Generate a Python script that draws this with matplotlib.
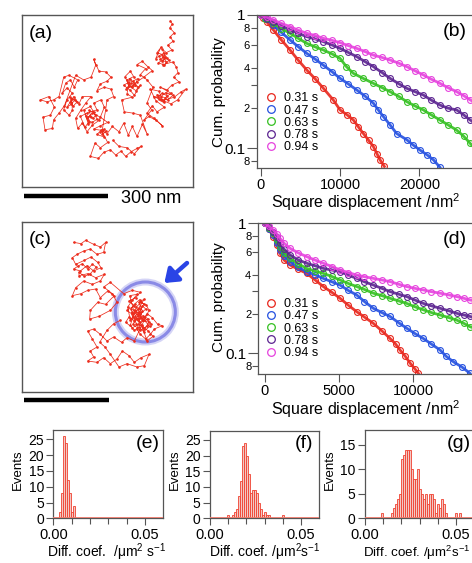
import numpy as np
import matplotlib
matplotlib.use('Agg')
import matplotlib.pyplot as plt
from matplotlib.lines import Line2D
from matplotlib.patches import Circle
from matplotlib.ticker import NullLocator

# ---------------- data ----------------
# trajectories (digitised positions, 252 units = 300 nm), y grows downward
traj_a_x = [510,516,508,522,510,518,502,515,498,486,494,478,498,486,470,482,466,
            476,490,500,486,474,492,506,488,
            488,518,528,533,520,536,514,
            500,480,512,494,470,488,522,542,556,532,512,482,460,
            472,486,500,490,476,502,518,496,482,
            476,450,466,492,470,456,440,462,486,468,446,430,454,440,458,
            440,420,436,410,426,442,456,430,410,394,380,400,390,374,386,406,420,402,388,370,
            384,398,412,404,392,378,396,414,400,388,
            380,396,364,372,398,420,
            440,426,410,396,384,370,356,336,320,302,312,290,
            298,310,306,318,
            280,300,322,300,
            276,260,250,270,286,
            278,268,262,276,290,280,266,272,256,264,
            266,254,240,260,290,280,302,312,296,276,260,246,232,226,242,256,272,246,236,220,210,200,
            212,224,208,218,230,214,
            216,206,190,200,216,200,186,196,210,222,232,206,190,
            176,160,140,120,146,162,150,128,134,156,160,176,192,
            226,250,272,286,280,296,316,332,320,300,290,312,332,340,320,
            316,305,322,300,284,270,294,310,330,346,362,376,392,410,422,402,380,356,338]
traj_a_y = [62,72,84,98,110,124,136,150,158,148,170,178,186,164,158,142,176,
            168,160,174,182,188,196,180,172,
            194,186,202,218,232,246,256,
            270,262,280,294,284,302,292,276,268,300,312,300,290,
            292,280,288,306,298,300,286,278,290,
            274,268,302,322,336,318,340,356,378,362,350,362,330,310,262,
            240,224,206,194,184,200,212,232,246,262,240,230,214,230,258,272,256,286,270,256,
            248,244,236,256,250,266,258,262,248,236,
            282,292,300,336,340,346,
            402,374,410,380,406,370,396,380,402,390,412,404,
            396,388,404,394,
            388,378,368,352,
            340,356,330,320,346,
            356,348,362,368,358,338,332,352,348,372,
            366,382,350,340,330,310,300,322,362,376,396,370,386,356,330,310,290,290,312,290,306,322,
            314,300,292,320,306,296,
            332,346,330,300,280,264,280,250,240,262,240,226,232,
            290,300,306,300,290,322,346,352,390,386,360,340,318,
            226,240,232,196,178,214,216,232,244,252,272,262,268,290,300,
            330,395,428,444,430,470,476,458,450,466,454,470,456,446,440,462,444,440,422]

traj_c_x = [220,242,256,280,300,316,310,290,270,250,230,216,226,252,272,292,302,280,260,240,220,
            232,246,262,276,288,270,252,236,
            236,262,286,312,300,276,250,226,216,242,262,286,300,322,342,316,292,270,268,296,330,350,336,310,330,
            370,396,420,406,386,402,380,396,412,422,402,386,376,396,416,432,446,426,440,456,472,486,462,450,436,420,410,426,416,432,416,406,390,382,396,410,388,400,420,436,426,412,398,420,440,452,430,414,404,418,430,418,404,392,408,426,444,458,440,
            424,410,428,444,420,400,394,414,432,448,430,416,402,390,408,422,438,446,
            402,380,364,340,320,300,280,262,276,290,270,280,262,290,310,330,350,366,386,402,422,446,432,410,380,356,330,314,298,320,340,360]
traj_c_y = [96,100,90,102,110,96,126,132,116,122,132,142,162,150,140,156,172,182,166,182,176,
            168,160,176,162,170,190,198,186,
            196,190,202,192,212,222,212,232,256,250,240,236,262,242,256,282,276,300,326,318,300,276,250,230,216,
            250,240,246,262,272,286,300,312,296,322,332,320,336,352,342,356,336,330,310,322,342,346,356,372,386,372,356,302,276,266,292,306,330,290,270,252,256,300,312,296,286,318,342,360,348,340,320,330,318,304,282,268,280,296,340,348,362,378,392,
            344,326,316,326,336,322,306,314,330,348,364,350,360,344,290,276,284,300,
            392,382,396,380,392,372,356,362,386,410,422,440,452,456,442,460,446,422,436,456,442,432,466,470,460,470,432,410,396,360,340,330]

# cumulative probability of square displacement (nm^2)
labels_t = ['0.31 s', '0.47 s', '0.63 s', '0.78 s', '0.94 s']
colors_t = ['#e8261c', '#2450e0', '#34c021', '#5b2390', '#e642de']

b_x_031 = [0,300,756,1600,2600,3700,4700,5800,6900,7900,9160,10000,10900,11680,12300,12940,13600,14200,14700,15040,15590]
b_y_031 = [1.0,0.95,0.89,0.772,0.65,0.546,0.46,0.387,0.33,0.282,0.23,0.194,0.178,0.163,0.145,0.129,0.115,0.103,0.09,0.082,0.073]
b_x_047 = [0,500,1600,2600,3700,4700,5800,6900,7900,9000,10000,11000,12100,13200,14200,14800,15460,16300,17140,18400,19200,20080,21000,21760,22600]
b_y_047 = [1.0,0.95,0.84,0.74,0.65,0.58,0.516,0.465,0.42,0.375,0.335,0.305,0.274,0.245,0.218,0.195,0.173,0.15,0.129,0.116,0.106,0.097,0.089,0.082,0.072]
b_x_063 = [0,600,1600,2600,3700,4700,5800,6900,7900,9000,10000,10800,11680,12900,14200,15300,16300,17400,18400,19500,20500,21500,22600,23600,24700,25600,26400,27000]
b_y_063 = [1.0,0.94,0.866,0.79,0.729,0.67,0.613,0.575,0.546,0.51,0.473,0.41,0.365,0.335,0.307,0.285,0.266,0.245,0.224,0.207,0.194,0.178,0.163,0.15,0.137,0.123,0.109,0.1]
b_x_078 = [0,800,1600,2600,3700,4700,5800,6900,7900,9000,10000,11000,12100,13200,14200,15300,16300,17400,18400,19500,20500,21500,22600,23600,24700,25600,26400,27000]
b_y_078 = [1.0,0.94,0.89,0.83,0.772,0.73,0.688,0.66,0.631,0.595,0.562,0.525,0.487,0.445,0.41,0.37,0.335,0.305,0.282,0.265,0.251,0.23,0.211,0.2,0.194,0.178,0.163,0.155]
b_x_094 = [0,800,1600,2600,3700,4700,5800,6900,7900,9000,10000,11000,12100,13200,14200,15300,16300,17400,18400,19500,20500,21500,22600,23600,24700,25600,26400,27000]
b_y_094 = [1.0,0.96,0.917,0.865,0.818,0.77,0.729,0.7,0.668,0.645,0.62,0.59,0.562,0.53,0.5,0.48,0.46,0.435,0.41,0.38,0.355,0.33,0.307,0.285,0.266,0.248,0.231,0.22]

d_x_031 = [0,250,560,800,1010,1300,1690,2200,2810,3400,3930,4500,5060,5600,6180,6700,7300,7900,8430,8800,9100,9450,9780,10100,10340]
d_y_031 = [1.0,0.9,0.79,0.68,0.588,0.52,0.478,0.445,0.412,0.365,0.326,0.295,0.265,0.235,0.209,0.19,0.17,0.148,0.13,0.118,0.106,0.095,0.084,0.076,0.07]
d_x_047 = [0,250,560,800,1010,1300,1690,2200,2810,3400,3930,4500,5060,5600,6180,6700,7300,7900,8430,9000,9550,10100,10670,11200,11800,12200,12700,13300,13820]
d_y_047 = [1.0,0.91,0.81,0.7,0.623,0.56,0.507,0.46,0.425,0.4,0.377,0.355,0.335,0.305,0.281,0.25,0.222,0.205,0.192,0.172,0.156,0.142,0.13,0.118,0.106,0.095,0.086,0.078,0.07]
d_x_063 = [0,250,560,800,1010,1300,1690,2200,2810,3400,3930,4500,5060,5600,6180,6700,7300,7900,8430,9000,9550,10100,10670,11200,11800,12400,12920,13400,13820,14200]
d_y_063 = [1.0,0.92,0.838,0.74,0.662,0.59,0.538,0.49,0.45,0.428,0.412,0.39,0.366,0.345,0.326,0.31,0.29,0.277,0.265,0.253,0.242,0.228,0.216,0.206,0.197,0.188,0.18,0.17,0.16,0.155]
d_x_078 = [0,250,560,800,1010,1300,1690,2200,2810,3400,3930,4500,5060,5600,6180,6700,7300,7900,8430,9000,9550,10100,10670,11200,11800,12400,12920,13400,13820,14200]
d_y_078 = [1.0,0.93,0.863,0.78,0.702,0.63,0.571,0.525,0.493,0.47,0.45,0.437,0.425,0.4,0.377,0.355,0.335,0.315,0.298,0.285,0.273,0.257,0.242,0.232,0.222,0.212,0.203,0.197,0.192,0.188]
d_x_094 = [0,250,560,800,1010,1300,1690,2200,2810,3400,3930,4500,5060,5600,6180,6700,7300,7900,8430,9000,9550,10100,10670,11200,11800,12400,12920,13400,13820,14200]
d_y_094 = [1.0,0.95,0.888,0.83,0.767,0.7,0.642,0.595,0.554,0.52,0.493,0.465,0.438,0.418,0.4,0.388,0.377,0.366,0.356,0.34,0.326,0.316,0.307,0.298,0.29,0.281,0.273,0.265,0.257,0.252]

# histograms of diffusion coefficients (um^2/s)
bin_w = 0.0011
e_start = 0.0033
e_counts = [2, 8, 26, 24, 12, 8, 2, 4]
f_start = 0.0098
f_counts = [1,0,1,2,3,7,12,23,24,20,14,8,9,9,8,5,3,1,2,1,1,0,0,0,0,0,0,1]
g_start = 0.0089
g_counts = [1,0,0,0,0,1,2,3,4,5,12,13,14,14,14,10,8,8,10,6,5,4,5,3,5,5,4,1,3,2,4,3,1,0,0,0,0,1,0,1]

# ---------------- style ----------------
plt.rcParams['font.family'] = ['Liberation Sans', 'DejaVu Sans']
plt.rcParams['mathtext.default'] = 'regular'
GRAY = '#555555'
TRED = '#ec2d1d'

W, H = 472, 563
fig = plt.figure(figsize=(W / 100, H / 100), dpi=100)


def rect(l, t, w, h):
    return [l / W, 1 - (t + h) / H, w / W, h / H]


def fp(x, y):
    return (x / W, 1 - y / H)


def style_spines(ax, lw=0.9):
    for s in ax.spines.values():
        s.set_color(GRAY)
        s.set_linewidth(lw)


# ---------- trajectories ----------
def traj_panel(box, xs, ys, lim):
    ax = fig.add_axes(rect(*box))
    ax.plot(xs, ys, '-', color=TRED, lw=0.55, marker='o', ms=1.9, mec='none', mfc=TRED)
    ax.set_xlim(lim[0], lim[1])
    ax.set_ylim(lim[3], lim[2])
    ax.set_xticks([]); ax.set_yticks([])
    style_spines(ax, 1.0)
    return ax


ax_a = traj_panel((22, 15, 171, 172), traj_a_x, traj_a_y, (65, 578, 45, 562))
ax_c = traj_panel((22, 222, 171, 170), traj_c_x, traj_c_y, (65, 578, 35, 545))

ax_c.add_patch(Circle((435, 305), 90, fill=False, ec='#b8b8f0', lw=5, alpha=0.6))
ax_c.add_patch(Circle((435, 305), 90, fill=False, ec='#8a8ae6', lw=2.2))
ax_c.annotate('', xy=(492, 218), xytext=(560, 158),
              arrowprops=dict(arrowstyle='-|>,head_width=0.55,head_length=0.75',
                              lw=3.2, color='#2a44e6', shrinkA=0, shrinkB=0))

fig.text(*fp(40.5, 33), '(a)', fontsize=14, ha='center', va='center')
fig.text(*fp(40.5, 240), '(c)', fontsize=14, ha='center', va='center')

# scale bars
fig.add_artist(Line2D([24 / W, 108 / W], [1 - 196 / H] * 2, lw=3.2, color='black', solid_capstyle='butt'))
fig.add_artist(Line2D([24 / W, 109 / W], [1 - 400 / H] * 2, lw=3.2, color='black', solid_capstyle='butt'))
fig.text(*fp(151, 198.5), '300 nm', fontsize=13, ha='center', va='center')


# ---------- cumulative probability ----------
def cdf_panel(left, top, height, xlim, px_per_unit, ylim, series, xt, letter, ylab_y, xlab_base, legend_top):
    width = (xlim[1] - xlim[0]) * px_per_unit
    ax = fig.add_axes(rect(left, top, width, height))
    for (xs, ys), c in zip(series, colors_t):
        ax.plot(xs, ys, '-', color=c, lw=2.0, alpha=0.9)
        ax.plot(xs, ys, 'o', color=c, ms=4.2, mfc='none', mew=0.8)
    ax.set_yscale('log')
    ax.set_xlim(*xlim)
    ax.set_ylim(*ylim)
    ax.set_xticks(xt, [str(v) for v in xt])
    ax.xaxis.set_minor_locator(NullLocator())
    ax.set_yticks([0.1, 1], ['0.1', '1'])
    ax.set_yticks([0.08, 0.2, 0.3, 0.4, 0.6, 0.8], ['8', '2', '', '4', '6', '8'], minor=True)
    ax.tick_params(axis='x', which='major', length=6, width=0.8, color=GRAY, labelsize=10.5, pad=1)
    ax.tick_params(axis='y', which='major', length=7, width=0.8, color=GRAY, labelsize=11, pad=1.5)
    ax.tick_params(axis='y', which='minor', length=4, width=0.8, color=GRAY, labelsize=8, pad=1)
    style_spines(ax)
    handles = [Line2D([], [], ls='none', marker='o', ms=5.5, mfc='none', mec=c, mew=0.9) for c in colors_t]
    fig.legend(handles, labels_t, loc='upper left', bbox_to_anchor=fp(266.4, legend_top),
               frameon=False, fontsize=9, handlelength=0.8, handletextpad=0.6,
               labelspacing=0.02, borderpad=0, borderaxespad=0)
    fig.text(*fp(218.5, ylab_y), 'Cum. probability', rotation=90, fontsize=11, ha='center', va='center')
    fig.text(*fp(366, xlab_base), 'Square displacement /nm$^2$', fontsize=11.5, ha='center', va='baseline')
    fig.text(*fp(454.5, top + 16.5), letter, fontsize=14, ha='center', va='center')
    return ax


series_b = [(b_x_031, b_y_031), (b_x_047, b_y_047), (b_x_063, b_y_063), (b_x_078, b_y_078), (b_x_094, b_y_094)]
series_d = [(d_x_031, d_y_031), (d_x_047, d_y_047), (d_x_063, d_y_063), (d_x_078, d_y_078), (d_x_094, d_y_094)]

cdf_panel(257, 15, 153, (-470, 30000), 79.3 / 10000, (0.0711, 1.0), series_b,
          [0, 10000, 20000], '(b)', 92, 208, 92.3)
cdf_panel(258.3, 223.3, 150.7, (-450, 15500), 74.2 / 5000, (0.0693, 1.0), series_d,
          [0, 5000, 10000], '(d)', 297.5, 414.5, 298)


# ---------- histograms ----------
def hist_panel(left, top, ymax, start, counts, yt, letter, lab_cx, xlabel, lab_fs=10):
    height = 518.3 - top
    ax = fig.add_axes(rect(left, top, 110, height))
    edges = start + bin_w * np.arange(len(counts))
    ax.bar(edges, counts, width=bin_w, align='edge', color='#f2c9c4', edgecolor='#f0402f', lw=0.6)
    ax.axhline(0, color='#ec7a6c', lw=1.3, zorder=3)
    ax.set_xlim(0, 0.06)
    ax.set_ylim(0, ymax)
    ax.set_xticks([0, 0.05], ['0.00', '0.05'])
    ax.set_xticks([0.01, 0.02, 0.03, 0.04], minor=True)
    ax.set_yticks(yt, [str(v) for v in yt])
    ax.tick_params(axis='x', which='major', length=5, width=0.8, color=GRAY, labelsize=10.5, pad=2)
    ax.tick_params(axis='x', which='minor', length=4, width=0.8, color=GRAY)
    ax.tick_params(axis='y', which='major', length=5, width=0.8, color=GRAY, labelsize=10, pad=1.5)
    style_spines(ax)
    fig.text(*fp(left + 94, 444), letter, fontsize=14, ha='center', va='center')
    fig.text(*fp(left - 35, 470), 'Events', rotation=90, fontsize=9.5, ha='center', va='center')
    fig.text(*fp(lab_cx, 557), xlabel, fontsize=lab_fs, ha='center', va='baseline')
    return ax


hist_panel(53.3, 430, 28, e_start, e_counts, [0, 5, 10, 15, 20, 25], '(e)', 107,
           'Diff. coef.  /μm$^2$ s$^{-1}$')
hist_panel(209.5, 430.5, 28, f_start, f_counts, [0, 5, 10, 15, 20, 25], '(f)', 265,
           'Diff. coef. /μm$^2$s$^{-1}$')
hist_panel(364.5, 430, 18, g_start, g_counts, [0, 5, 10, 15], '(g)', 416.5,
           'Diff. coef. /μm$^2$s$^{-1}$', lab_fs=9.6)

fig.savefig('out.png', dpi=100)
